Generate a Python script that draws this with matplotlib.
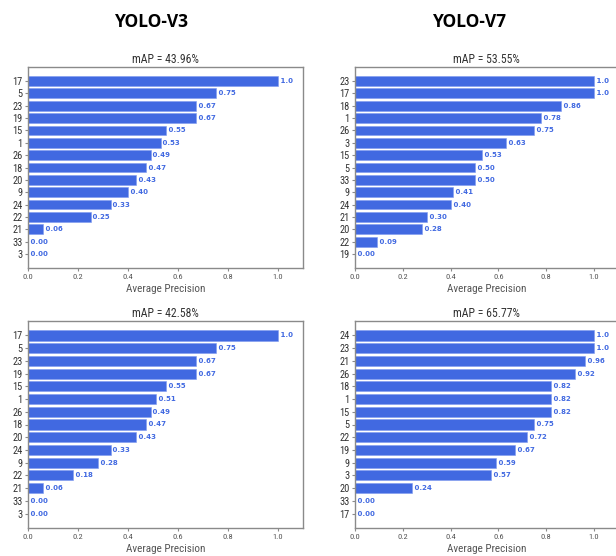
import matplotlib
matplotlib.use("Agg")
import matplotlib.pyplot as plt
from matplotlib import font_manager

# ---------------- data ----------------
v3_top_classes = ["17", "5", "23", "19", "15", "1", "26", "18", "20", "9", "24", "22", "21", "33", "3"]
v3_top_ap = [1.0, 0.75, 0.67, 0.67, 0.55, 0.53, 0.49, 0.47, 0.43, 0.40, 0.33, 0.25, 0.06, 0.00, 0.00]
v3_top_title = "mAP = 43.96%"

v7_top_classes = ["23", "17", "18", "1", "26", "3", "15", "5", "33", "9", "24", "21", "20", "22", "19"]
v7_top_ap = [1.0, 1.0, 0.86, 0.78, 0.75, 0.63, 0.53, 0.50, 0.50, 0.41, 0.40, 0.30, 0.28, 0.09, 0.00]
v7_top_title = "mAP = 53.55%"

v3_bot_classes = ["17", "5", "23", "19", "15", "1", "26", "18", "20", "24", "9", "22", "21", "33", "3"]
v3_bot_ap = [1.0, 0.75, 0.67, 0.67, 0.55, 0.51, 0.49, 0.47, 0.43, 0.33, 0.28, 0.18, 0.06, 0.00, 0.00]
v3_bot_title = "mAP = 42.58%"

v7_bot_classes = ["24", "23", "21", "26", "18", "1", "15", "5", "22", "19", "9", "3", "20", "33", "17"]
v7_bot_ap = [1.0, 1.0, 0.96, 0.92, 0.82, 0.82, 0.82, 0.75, 0.72, 0.67, 0.59, 0.57, 0.24, 0.00, 0.00]
v7_bot_title = "mAP = 65.77%"

column_headers = ["YOLO-V3", "YOLO-V7"]
x_ticks = [0.0, 0.2, 0.4, 0.6, 0.8, 1.0]
x_label = "Average Precision"

# ---------------- fonts ----------------
available = {f.name for f in font_manager.fontManager.ttflist}
narrow = None
for cand in ["Liberation Sans Narrow", "DejaVu Sans Condensed", "Roboto Condensed", "Open Sans Condensed"]:
    if cand in available:
        narrow = cand
        break
if narrow is None:
    narrow = "Roboto" if "Roboto" in available else "DejaVu Sans"

BAR = "royalblue"
SPINE = "#8a8a8a"

W, H = 616, 556
fig = plt.figure(figsize=(W / 100, H / 100), dpi=100)
fig.patch.set_facecolor("white")


def px_axes(left, top, right, bottom):
    return fig.add_axes([left / W, 1 - bottom / H, (right - left) / W, (bottom - top) / H])


def draw(ax, classes, ap, title):
    n = len(classes)
    ys = list(range(n))
    ax.barh(ys, ap, height=0.8, color=BAR, edgecolor="#7f9bf0", linewidth=0.4)
    ax.set_yticks(ys)
    ax.set_yticklabels(classes, fontfamily=narrow, fontsize=7.5, color="#333333")
    ax.invert_yaxis()
    ax.set_xlim(0, 1.1)
    ax.set_xticks(x_ticks)
    ax.set_xticklabels([f"{t:.1f}" for t in x_ticks], fontfamily=narrow, fontsize=6, color="#555555")
    ax.set_xlabel(x_label, fontfamily=narrow, fontsize=8, color="#555555", labelpad=3)
    ax.set_title(title, fontfamily=narrow, fontsize=8.5, color="#333333", pad=3)
    for s in ax.spines.values():
        s.set_color(SPINE)
        s.set_linewidth(1.0)
    ax.tick_params(axis="both", colors=SPINE, length=2.5, width=0.8, pad=1.5)
    for lab in ax.get_yticklabels():
        lab.set_color("#333333")
    for lab in ax.get_xticklabels():
        lab.set_color("#555555")
    for y, v in zip(ys, ap):
        s = " 1.0" if v >= 1.0 else " {0:.2f}".format(v)
        ax.text(v, y, s, color=BAR, va="center", ha="left", fontsize=5, fontweight="bold",
                fontfamily="DejaVu Sans")


ax1 = px_axes(28, 67, 303, 268)
draw(ax1, v3_top_classes, v3_top_ap, v3_top_title)
ax2 = px_axes(355, 67, 618, 268)
draw(ax2, v7_top_classes, v7_top_ap, v7_top_title)
ax3 = px_axes(28, 321, 303, 528)
draw(ax3, v3_bot_classes, v3_bot_ap, v3_bot_title)
ax4 = px_axes(355, 321, 618, 528)
draw(ax4, v7_bot_classes, v7_bot_ap, v7_bot_title)

hdr_font = "Open Sans" if "Open Sans" in available else "DejaVu Sans"
fig.text(152 / W, 1 - 22 / H, column_headers[0], ha="center", va="center",
         fontsize=12.5, fontweight="bold", fontfamily=hdr_font, color="#000000")
fig.text(470 / W, 1 - 22 / H, column_headers[1], ha="center", va="center",
         fontsize=12.5, fontweight="bold", fontfamily=hdr_font, color="#000000")

fig.savefig("out.png", dpi=100, facecolor="white")
